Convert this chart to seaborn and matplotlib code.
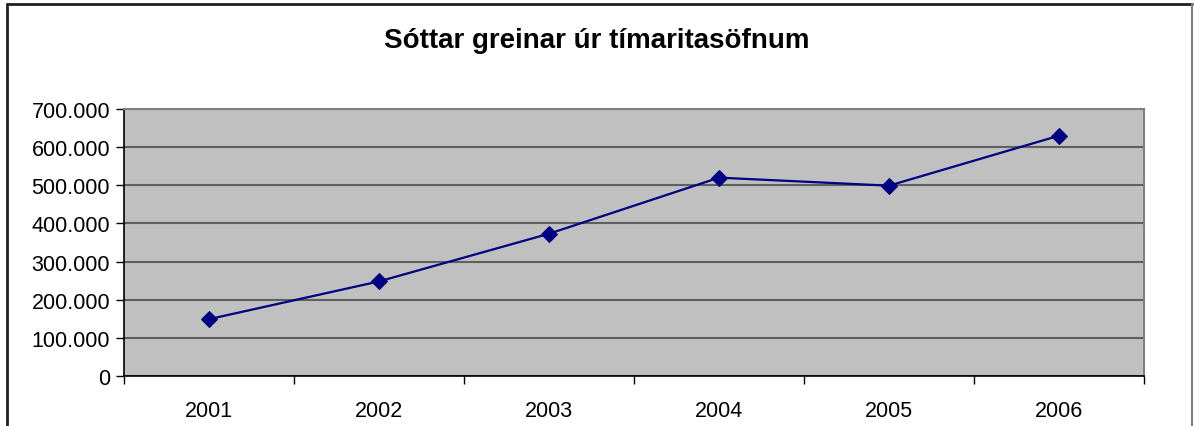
import matplotlib
matplotlib.use("Agg")
import matplotlib.pyplot as plt
import matplotlib.ticker as mticker
from matplotlib.lines import Line2D
import seaborn as sns
import pandas as pd

# gögn
years = ['2001', '2002', '2003', '2004', '2005', '2006']
downloads = [149000, 248000, 373000, 520000, 499000, 630000]
yticks = [0, 100000, 200000, 300000, 400000, 500000, 600000, 700000]

df = pd.DataFrame({'ar': years, 'fjoldi': downloads})

sns.set_theme(style="white")
plt.rcParams['font.family'] = ['Liberation Sans', 'DejaVu Sans']
plt.rcParams['text.color'] = 'black'
plt.rcParams['xtick.color'] = 'black'
plt.rcParams['ytick.color'] = 'black'

fig = plt.figure(figsize=(11.94, 4.27), dpi=100)
ax = fig.add_axes([124 / 1194, 50 / 427, 1020 / 1194, 267 / 427])
ax.set_facecolor('#C0C0C0')

sns.lineplot(data=df, x='ar', y='fjoldi', ax=ax, color='#000080', linewidth=1.6,
             marker='D', markersize=8, markeredgecolor='#000080', sort=False)

ax.set_xlim(-0.5, len(years) - 0.5)
ax.set_ylim(0, 700000)
ax.set_yticks(yticks)
ax.yaxis.set_major_formatter(mticker.FuncFormatter(lambda v, p: f'{int(v):,}'.replace(',', '.')))
ax.grid(axis='y', color='#606060', linewidth=1.5)
ax.set_axisbelow(True)

ax.set_xticks(range(len(years)))
ax.set_xticklabels(years)
ax.set_xticks([i - 0.5 for i in range(len(years) + 1)], minor=True)
ax.tick_params(axis='x', which='major', length=0, pad=17, labelsize=15.5, labelcolor='black')
ax.tick_params(axis='x', which='minor', length=6, width=1, color='black', bottom=True)
ax.tick_params(axis='y', which='major', length=6, width=1, color='black', left=True,
               labelsize=15.5, pad=4, labelcolor='black')
ax.set_xlabel('')
ax.set_ylabel('')

for s in ['left', 'bottom']:
    ax.spines[s].set_color('black')
    ax.spines[s].set_linewidth(1.2)
for s in ['top', 'right']:
    ax.spines[s].set_color('#808080')
    ax.spines[s].set_linewidth(1.5)

fig.text(0.5, 1 - 41 / 427, 'Sóttar greinar úr tímaritasöfnum', ha='center', va='center',
         fontsize=20, fontweight='bold', color='black')

# ytri rammi
W, H = 1194, 427
fig.add_artist(Line2D([7 / W, 1192 / W], [1 - 5 / H, 1 - 5 / H], color='#202020', linewidth=2))
fig.add_artist(Line2D([7 / W, 7 / W], [0, 1 - 5 / H], color='#202020', linewidth=2))
fig.add_artist(Line2D([1192 / W, 1192 / W], [0, 1 - 5 / H], color='#808080', linewidth=1.5))

fig.savefig('out.png', dpi=100)
